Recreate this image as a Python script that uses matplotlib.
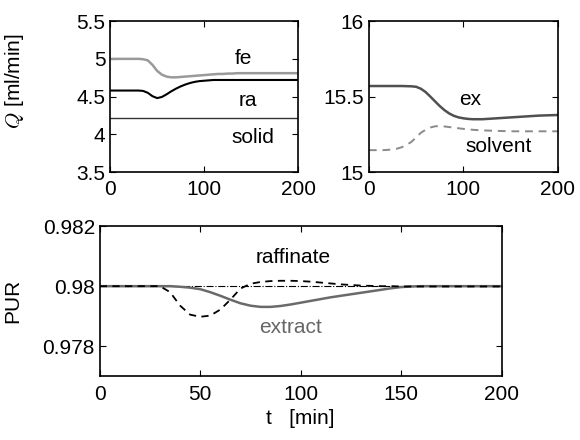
import matplotlib
matplotlib.use("Agg")
import matplotlib.pyplot as plt
import numpy as np

plt.rcParams['font.family'] = ['Liberation Sans', 'DejaVu Sans']
plt.rcParams['mathtext.fontset'] = 'cm'

# time grid [min]
t = np.arange(0, 201, 5)

# top left: flow rates [ml/min]
fe = [5.0, 5.0, 5.0, 5.0, 5.0, 5.0, 5.0, 4.995, 4.98, 4.92, 4.84, 4.79, 4.765, 4.755,
      4.755, 4.76, 4.765, 4.77, 4.775, 4.78, 4.785, 4.79, 4.795, 4.8, 4.8, 4.805,
      4.805, 4.81, 4.81, 4.81, 4.81, 4.81, 4.81, 4.81, 4.81, 4.81, 4.81, 4.81, 4.81,
      4.81, 4.81]
ra = [4.58, 4.58, 4.58, 4.58, 4.58, 4.58, 4.58, 4.575, 4.55, 4.505, 4.48, 4.495,
      4.53, 4.57, 4.605, 4.635, 4.66, 4.68, 4.695, 4.705, 4.71, 4.715, 4.72, 4.72,
      4.72, 4.72, 4.72, 4.72, 4.72, 4.72, 4.72, 4.72, 4.72, 4.72, 4.72, 4.72, 4.72,
      4.72, 4.72, 4.72, 4.72]
solid = [4.22] * len(t)

# top right
ex = [15.57, 15.57, 15.57, 15.57, 15.57, 15.57, 15.57, 15.57, 15.569, 15.568,
      15.565, 15.552, 15.53, 15.5, 15.468, 15.437, 15.41, 15.388, 15.372, 15.362,
      15.356, 15.352, 15.35, 15.35, 15.35, 15.352, 15.354, 15.356, 15.358, 15.36,
      15.362, 15.364, 15.366, 15.368, 15.37, 15.372, 15.374, 15.375, 15.376,
      15.377, 15.378]
solvent = [15.145, 15.145, 15.145, 15.145, 15.147, 15.15, 15.155, 15.165, 15.18,
           15.2, 15.23, 15.26, 15.28, 15.295, 15.303, 15.305, 15.302, 15.298,
           15.294, 15.29, 15.286, 15.283, 15.28, 15.278, 15.276, 15.275, 15.274,
           15.273, 15.272, 15.271, 15.27, 15.27, 15.27, 15.27, 15.27, 15.27, 15.27,
           15.27, 15.27, 15.27, 15.27]

# bottom: purities
extract = [0.98, 0.98, 0.98, 0.98, 0.98, 0.98, 0.98, 0.98, 0.97998, 0.97995, 0.9799,
           0.9798, 0.97968, 0.97955, 0.97943, 0.97935, 0.97931, 0.97931, 0.97934,
           0.97939, 0.97945, 0.97951, 0.97957, 0.97963, 0.97968, 0.97973, 0.97978,
           0.97983, 0.97988, 0.97993, 0.97997, 0.97999, 0.98, 0.98, 0.98, 0.98,
           0.98, 0.98, 0.98, 0.98, 0.98]
raffinate = [0.98, 0.98, 0.98, 0.98, 0.98, 0.98, 0.98, 0.9798, 0.97935, 0.97905,
             0.97898, 0.97902, 0.97922, 0.97955, 0.97992, 0.98008, 0.98014, 0.98017,
             0.98018, 0.98018, 0.98017, 0.98015, 0.98012, 0.98009, 0.98006,
             0.98004, 0.98002, 0.98001, 0.98, 0.98, 0.97999, 0.97999, 0.97999,
             0.97999, 0.97999, 0.97999, 0.97999, 0.97999, 0.97999, 0.97999, 0.97999]
setpoint = [0.98] * len(t)

fs = 15

fig = plt.figure(figsize=(5.8, 4.4), dpi=100)
ax1 = fig.add_axes([0.19, 0.609, 0.324, 0.343])
ax2 = fig.add_axes([0.636, 0.609, 0.326, 0.343])
ax3 = fig.add_axes([0.172, 0.145, 0.693, 0.341])

for ax in (ax1, ax2, ax3):
    ax.tick_params(direction='in', top=True, right=True, labelsize=fs, length=4)
    ax.tick_params(axis='x', pad=6)
    for s in ax.spines.values():
        s.set_linewidth(1.2)

ax1.plot(t, fe, color='#9a9a9a', lw=1.8)
ax1.plot(t, ra, color='black', lw=1.5)
ax1.plot(t, solid, color='#333333', lw=1.0)
ax1.set_xlim(0, 200)
ax1.set_ylim(3.5, 5.5)
ax1.set_xticks([0, 100, 200])
ax1.set_yticks([3.5, 4, 4.5, 5, 5.5])
ax1.set_yticklabels(['3.5', '4', '4.5', '5', '5.5'])
ax1.text(142, 5.0, 'fe', fontsize=fs, ha='center', va='center')
ax1.text(146, 4.45, 'ra', fontsize=fs, ha='center', va='center')
ax1.text(152, 3.96, 'solid', fontsize=fs, ha='center', va='center')
ax1.set_ylabel(r'$Q$ [ml/min]', fontsize=fs)
ax1.yaxis.set_label_coords(-0.45, 0.6)

ax2.plot(t, ex, color='#505050', lw=1.8)
ax2.plot(t, solvent, color='#8a8a8a', lw=1.4, ls=(0, (4, 3)))
ax2.set_xlim(0, 200)
ax2.set_ylim(15, 16)
ax2.set_xticks([0, 100, 200])
ax2.set_yticks([15, 15.5, 16])
ax2.set_yticklabels(['15', '15.5', '16'])
ax2.text(107, 15.48, 'ex', fontsize=fs, ha='center', va='center')
ax2.text(137, 15.17, 'solvent', fontsize=fs, ha='center', va='center')

ax3.plot(t, setpoint, color='black', lw=0.8, ls='-.')
ax3.plot(t, extract, color='#6a6a6a', lw=1.8)
ax3.plot(t, raffinate, color='black', lw=1.3, ls=(0, (4, 3)))
ax3.set_xlim(0, 200)
ax3.set_ylim(0.977, 0.982)
ax3.set_xticks([0, 50, 100, 150, 200])
ax3.set_yticks([0.978, 0.98, 0.982])
ax3.set_yticklabels(['0.978', '0.98', '0.982'])
ax3.text(96, 0.98097, 'raffinate', fontsize=fs, ha='center', va='center')
ax3.text(95, 0.97863, 'extract', fontsize=fs, ha='center', va='center', color='#666666')
ax3.set_ylabel('PUR', fontsize=fs)
ax3.yaxis.set_label_coords(-0.194, 0.5)
ax3.set_xlabel('t   [min]', fontsize=fs, labelpad=4)

fig.savefig('out.png', dpi=100)
